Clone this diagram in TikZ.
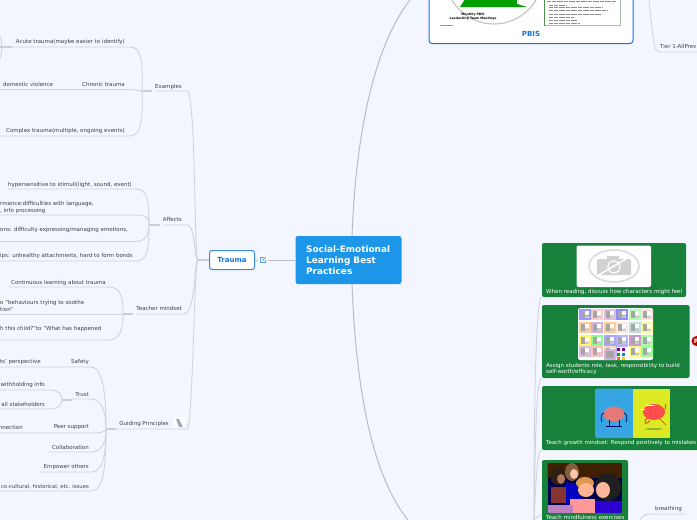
\documentclass[tikz,border=0pt]{standalone}
\usepackage{fontspec}
\setmainfont{DejaVu Sans}
\definecolor{bgc}{HTML}{F3F6FE}
\definecolor{connc}{HTML}{D0D3DB}
\definecolor{stubc}{HTML}{CBCDD2}
\definecolor{mainc}{HTML}{B9BCC2}
\definecolor{txtc}{HTML}{3E3E46}
\definecolor{rootc}{HTML}{1B96E8}
\definecolor{bluec}{HTML}{1474E0}
\definecolor{greenc}{HTML}{17803A}
\tikzset{
 x=1pt,y=-1pt,
 lab/.style={inner sep=0pt,text=txtc,font=\fontsize{5.5}{7}\selectfont,align=left,yshift=-0.5pt},
 labr/.style={lab,anchor=east},
 labl/.style={lab,anchor=west},
 conn/.style={draw=connc,line width=0.9pt},
 stub/.style={draw=stubc,line width=1.2pt},
 mainline/.style={draw=mainc,line width=1pt},
 card/.style={fill=greenc,rounded corners=2pt},
 cardtxt/.style={inner sep=0pt,anchor=west,text=white,font=\fontsize{5.5}{6.5}\selectfont,align=left},
 imgbox/.style={fill=white,rounded corners=2pt},
 tinyline/.style={draw=black!45,line width=0.5pt,dash pattern=on 2pt off 0.4pt}
}
\begin{document}
\begin{tikzpicture}
\useasboundingbox (0,0) rectangle (697,520);
\clip (0,0) rectangle (697,520);
\fill[bgc] (0,0) rectangle (697,520);

% joints
\coordinate (jT) at (198,260);
\coordinate (jEx) at (142,91);
\coordinate (jAf) at (149,225);
\coordinate (jTm) at (123,314);
\coordinate (jGp) at (106,429);
\coordinate (jTr) at (62,400);
\coordinate (tEx) at (187,91);
\coordinate (tAf) at (187,225);
\coordinate (tTm) at (184,314);
\coordinate (tGp) at (187,429);
\coordinate (jLow) at (534,520);

% root and Trauma
\node[fill=rootc,rounded corners=2.5pt,minimum width=106pt,minimum height=48pt,inner sep=0pt] (root) at (348.5,260) {};
\node[anchor=west,inner sep=0pt,text=white,font=\fontsize{8.9}{11}\bfseries\selectfont,align=left] (roottxt) at (306,260.5) {Social-Emotional\\Learning Best\\Practices};
\node[draw=bluec!85,fill=white,line width=1pt,rounded corners=2.5pt,minimum width=45pt,minimum height=19pt,inner sep=0pt,text=bluec,font=\fontsize{7}{8}\bfseries\selectfont] (trauma) at (232,260) {Trauma};

% main connectors
\draw[mainline] (root.west) -- (trauma.east);
\draw[stub] (trauma.west) -- (jT);
\coordinate (upEnd) at (410,0);
\coordinate (lowEnd) at (408,520);
\draw[mainline] (352,236) .. controls (356,130) and (375,45) .. (upEnd);
\draw[mainline] (352,284) .. controls (356,390) and (372,475) .. (lowEnd);

% icon beside Trauma
\fill[white] (258,255) rectangle (268,265);
\draw[draw=bluec!70,line width=0.8pt] (263.5,257.3) -- (260.3,257.3) -- (260.3,262.7) -- (265.7,262.7) -- (265.7,259.5);
\draw[draw=bluec!70,line width=0.8pt] (262.5,260.5) -- (266,257);

% first level
\draw[conn] (jT) .. controls (194,260) and (196,91) .. (tEx) -- (155,91);
\draw[conn] (jT) .. controls (194,260) and (196,225) .. (tAf) -- (163,225);
\draw[conn] (jT) .. controls (194,260) and (196,314) .. (tTm) -- (136,314);
\draw[conn] (jT) .. controls (194,260) and (193,429) .. (tGp) -- (116,429);

\draw[stub] (jEx) -- (152,91);
\draw[stub] (jAf) -- (160,225);
\draw[stub] (jTm) -- (133,314);
\draw[stub] (jGp) -- (116,429);
\draw[stub] (jTr) -- (72,400);
\draw[stub] (0,47) -- (12,47);

% Examples
\node[labr] (ex) at (182,86) {Examples};
\node[labr] (ac) at (125,41) {Acute trauma(maybe easier to identify)};
\node[labr] (ch) at (125,84) {Chronic trauma};
\node[labl] (dv) at (3,84) {domestic violence};
\node[labr] (co) at (125,130) {Complex trauma(multiple, ongoing events)};
\draw[conn] (jEx) .. controls (143,60) and (141,47) .. (130,47) -- (12,47);
\draw[conn] (jEx) .. controls (140,91) and (136,89.5) .. (128,89.5) -- (0,89.5);
\draw[conn] (jEx) .. controls (143,120) and (141,136) .. (130,136) -- (0,136);
\draw[conn] (0,37) .. controls (2.5,41) and (2.5,53) .. (0,58);

% Affects
\node[labr] (af) at (182,219) {Affects};
\node[labr] (hy) at (132,184) {hypersensitive to stimuli(light, sound, event)};
\node[labl] (pe) at (0,203) {rmance:difficulties with language,};
\node[labl] (pf) at (0,210) {, info processing};
\node[labl] (em) at (0,229) {ons: difficulty expressing/managing emotions,};
\node[labl] (re) at (0,255) {ips: unhealthy attachments, hard to form bonds};
\draw[conn] (jAf) .. controls (149,200) and (147,189) .. (136,189) -- (8,189);
\draw[conn] (jAf) .. controls (149,218) and (147,215) .. (136,215) -- (0,215);
\draw[conn] (jAf) .. controls (149,232) and (147,241.5) .. (136,241.5) -- (0,241.5);
\draw[conn] (jAf) .. controls (149,250) and (147,261) .. (136,261) -- (0,261);

% Teacher mindset
\node[labr] (tm) at (182,308) {Teacher mindset};
\node[labr] (cl) at (106,282) {Continuous learning about trauma};
\node[labl] (be) at (0,302) {o "behaviours trying to soothe};
\node[labl] (bf) at (0,309) {tion"};
\node[labl] (wi) at (0,328) {h this child?"to "What has happened};
\draw[conn] (jTm) .. controls (123,295) and (120,287) .. (108,287) -- (8,287);
\draw[conn] (jTm) -- (0,314);
\draw[conn] (jTm) .. controls (123,330) and (120,340) .. (108,340) -- (0,340);

% Guiding Principles
\node[labr] (gp) at (169,423) {Guiding Principles};
\node[labr] (sa) at (89,361) {Safety};
\node[labr] (pp) at (41,361) {ts' perspective};
\node[labr] (tr) at (89,394) {Trust};
\node[labr] (wh) at (45,384) {withholding info};
\node[labr] (st) at (45,404) {all stakeholders};
\node[labr] (ps) at (89,427) {Peer support};
\node[labr] (nn) at (23,427) {nnection};
\node[labr] (cb) at (89,447) {Collaboration};
\node[labr] (eo) at (89,466) {Empower others};
\node[labr,font=\fontsize{5.3}{7}\selectfont] (hi) at (89,486) {co-cultural, historical, etc. issues};
\draw[conn] (jGp) .. controls (106,395) and (103,367) .. (91,367) -- (0,367);
\draw[conn] (jGp) .. controls (106,415) and (103,399) .. (91,399) -- (72,399);
\draw[conn] (jGp) .. controls (105,432) and (101,433) .. (91,433) -- (0,433);
\draw[conn] (jGp) .. controls (106,440) and (103,452) .. (91,452) -- (48,452);
\draw[conn] (jGp) .. controls (106,455) and (103,472) .. (91,472) -- (40,472);
\draw[conn] (jGp) .. controls (106,470) and (103,491) .. (91,491) -- (0,491);
\draw[conn] (jTr) .. controls (62,394) and (58,390) .. (50,390) -- (0,390);
\draw[conn] (jTr) .. controls (62,405) and (58,409) .. (50,409) -- (0,409);
% note icon on Guiding Principles
\fill[white] (174,418) rectangle (185,428);
\fill[blue!20!black!35] (176,419) -- (179,419) -- (183,427) -- (179,427) -- cycle;

% PBIS card
\draw[draw=bluec,fill=white,line width=1pt,rounded corners=3pt] (429,-6) rectangle (633,43.5);
\node[inner sep=0pt,text=bluec,font=\fontsize{7}{8}\bfseries\selectfont] (pbis) at (531,34.3) {PBIS};
\draw[draw=black!24,line width=1.1pt] (494,-24.75) circle (48.75);
\fill[green!62!black] (471,-10) -- (527,7) -- (460,7) -- cycle;
\fill[green!62!black] (470,-2) rectangle (517,7);
\node[inner sep=0pt,text=black,font=\fontsize{3.1}{4}\bfseries\selectfont,align=center] (mt) at (473,17) {Monthly PBIS\\Leadership Team Meetings};
\draw[draw=black!40,line width=0.45pt] (439.5,25) -- (453,25);
\draw[draw=green!40!black!70,line width=0.7pt] (544.5,0) -- (544.5,25.5);
\draw[draw=green!30!black!35,line width=0.7pt] (544.5,25.5) -- (620,25.5) -- (620,0);
\foreach \yy/\xa/\xb in {1/547/616,5/549/566,7/549/603,10/549/608,14/549/601,17/549/574,20/549/577,23.5/549/580}{
  \draw[tinyline] (\xa,\yy) -- (\xb,\yy);
}

% Tier branch
\node[labl] (tier) at (660,46) {Tier 1-AllPrev};
\draw[conn] (649,0) .. controls (651,20) and (653,40) .. (655,47) .. controls (656,51) and (658,52) .. (662,52) -- (697,52);

% cards
\node[card,minimum width=144pt,minimum height=54pt,inner sep=0pt] (g1) at (614,270) {};
\node[card,minimum width=147.5pt,minimum height=73pt,inner sep=0pt] (g2) at (615.75,341.5) {};
\node[card,minimum width=160pt,minimum height=64pt,inner sep=0pt] (g3) at (622,418) {};
\node[card,minimum width=86pt,minimum height=70pt,inner sep=0pt] (g4) at (585,495) {};
\coordinate (g1a) at (541,297);
\coordinate (g2a) at (541,378);
\coordinate (g3a) at (541,450);
\coordinate (g4a) at (541,515);

\draw[conn] (jLow) .. controls (534,430) and (535,310) .. (g1a);
\draw[conn] (jLow) .. controls (535,450) and (536,385) .. (g2a);
\draw[conn] (jLow) .. controls (536,480) and (537,455) .. (g3a);
\draw[conn] (jLow) .. controls (536,518) and (538,516) .. (g4a);

% card 1
\fill[imgbox] (576.5,245.5) rectangle (651,287);
\draw[black!14,line width=1.6pt] (614,266) ellipse (25 and 16);
\fill[black!18,rounded corners=1pt] (597,259) rectangle (631,275);
\fill[black!18] (607,256) rectangle (619,260);
\draw[white,line width=1.2pt] (614,267) circle (6);
\draw[white,line width=1.5pt] (597,276) -- (631,256);
\node[cardtxt] (t1) at (546,292) {When reading, discuss how characters might feel};

% card 2
\fill[imgbox] (578,308) rectangle (653,360);
\foreach \cx/\cy/\cc in {
 579/309/blue!40,591/309/red!20,604/309/violet!25,616/309/blue!45,629/309/green!30,641/309/pink!50,
 579/322/orange!40,591/322/violet!30,604/322/orange!40,616/322/pink!40,629/322/teal!25,641/322/yellow!40,
 579/335/yellow!60,591/335/green!45,604/335/blue!35,616/335/blue!30,629/335/violet!40,641/335/green!35,
 579/346/violet!25,591/346/red!25,604/346/orange!30,616/346/blue!30,629/346/yellow!50,641/346/green!40}{
  \fill[\cc] (\cx,\cy) rectangle ++(11.5,10.5);
  \fill[black!35] (\cx+1.5,\cy+2) rectangle ++(4,6.5);
  \fill[white] (\cx+6,\cy+2) rectangle ++(4,4);
  \fill[black!20] (\cx+6,\cy+6.5) rectangle ++(4,2);
}
\fill[violet!30] (604,349) rectangle ++(12,11);
\fill[black!35] (606,351) rectangle ++(8,7);
\fill[white] (616.5,347) rectangle (630,360);
\fill[violet] (617,348) rectangle ++(3,3);
\fill[violet] (622,348) rectangle ++(3,3);
\fill[green!70!black] (617,352.5) rectangle ++(3,3);
\fill[cyan!70!blue] (622,352.5) rectangle ++(3,3);
\fill[orange!80!red] (617,356.5) rectangle ++(3,3);
\fill[yellow!70!orange] (622,356.5) rectangle ++(3,3);
\node[cardtxt] (t2) at (546,369) {Assign students role, task, responsibility to build\\self-worth/efficacy};

% Pinterest
\fill[red!75!black] (696.5,341) circle (5);
\node[inner sep=0pt,text=white,font=\fontsize{6}{6}\bfseries\selectfont] (pin) at (696,341) {P};

% card 3
\fill[cyan!80!blue!80,rounded corners=2pt] (595,388.5) rectangle (634,438);
\fill[yellow!85!green!90] (632.5,388.5) rectangle (669.5,438);
\fill[red!30!pink!90!black] (614,414) ellipse (10.5 and 7.5);
\draw[blue!40!black,line width=0.7pt] (604,413) .. controls (600,414) and (601,420) .. (602,422);
\draw[blue!40!black,line width=0.7pt] (624,413) .. controls (628,414) and (627,420) .. (626,422);
\draw[blue!40!black,line width=0.7pt] (609,420) -- (609,426) (619,420) -- (619,426) (606,426.5) -- (622,426.5);
\fill[red!60!pink] (654,412) ellipse (11 and 8);
\draw[white,line width=0.5pt] (645,405) -- (655,405) (640,409) -- (645,409);
\draw[red!80!orange,line width=0.7pt] (647,418) .. controls (643,424) and (645,425) .. (650,421);
\draw[red!80!orange,line width=0.7pt] (660,419) -- (666,425);
\draw[red!80!orange,line width=0.7pt] (665,410) -- (666,404);
\fill[black!30!yellow!70!green] (654,429) ellipse (9 and 1);
\node[cardtxt] (t3) at (546,443) {Teach growth mindset: Respond positively to mistakes};

% card 4
\begin{scope}
\clip[rounded corners=2pt] (547.5,463) rectangle (622,513);
\fill[black!70!blue] (547.5,463) rectangle (622,513);
\fill[black!75!orange] (547,463) rectangle (622,478);
\fill[black!75!brown] (558,476) ellipse (8 and 9);
\fill[orange!30!pink!70!black] (561,479) ellipse (4 and 5);
\fill[black!60!red!80] (551,487) rectangle (566,503);
\fill[brown!60!black!90] (572,472) ellipse (7 and 9);
\fill[orange!30!pink!70] (574,474) ellipse (4 and 5);
\fill[blue!75!black] (566,483) rectangle (582,505);
\fill[pink!80!red] (570,499) rectangle (595,513);
\fill[brown!60!orange!80] (585,483) ellipse (9 and 6);
\fill[orange!30!pink!90] (586,490) ellipse (8 and 7);
\fill[violet!50] (548,505) rectangle (573,513);
\fill[black!88] (608,487) ellipse (13 and 14);
\fill[orange!25!pink!90] (603,490) ellipse (7 and 8);
\fill[blue!65!violet] (595,501) rectangle (622,513);
\end{scope}
\node[cardtxt] (t4) at (546,517.5) {Teach mindfulness exercises};

% breathing
\node[labl] (br) at (655,508) {breathing};
\draw[conn] (640,520) .. controls (642,516) and (645,514) .. (652,514) -- (686,514);
\end{tikzpicture}
\end{document}
